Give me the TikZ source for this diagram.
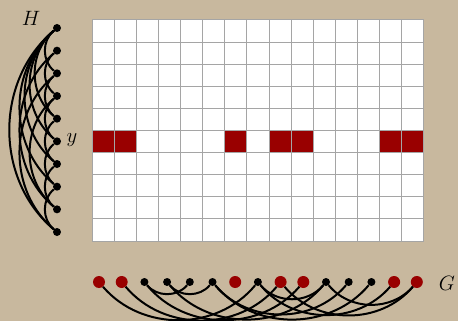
\documentclass[tikz,border=0pt]{standalone}
\definecolor{bgtan}{RGB}{200,184,158}
\definecolor{cellred}{RGB}{153,0,0}
\definecolor{gridgray}{RGB}{165,165,165}
\begin{document}
\begin{tikzpicture}[x=1pt,y=-1pt,
  hv/.style={circle,fill=black,inner sep=0pt,minimum size=8pt},
  gv/.style={circle,fill=black,inner sep=0pt,minimum size=8pt},
  gr/.style={circle,fill=cellred,inner sep=0pt,minimum size=12pt},
  arc/.style={line width=2pt,black},
  lab/.style={font=\fontsize{20}{24}\selectfont}]
\fill[bgtan] (0,0) rectangle (458,321);
\useasboundingbox (0,0) rectangle (458,321);
% grid
\fill[white] (92,20) rectangle (424,241);
\foreach \c in {1,2,7,9,10,14,15}
  \fill[cellred] ({92+(\c-1)*22.133},{20+5*22.1}) rectangle ({92+\c*22.133},{20+6*22.1});
\foreach \i in {0,...,15} \draw[gridgray,line width=1pt] ({92+\i*22.133},20) -- ({92+\i*22.133},241);
\foreach \j in {0,...,10} \draw[gridgray,line width=1pt] (92,{20+\j*22.1}) -- (424,{20+\j*22.1});
% H vertices
\foreach \i in {1,...,10} \node[hv] (h\i) at (57,{28+(\i-1)*22.667}) {};
% H edges
\foreach \a/\b in {1/3,2/4,3/5,4/6,5/7,6/8,7/9,8/10,1/5,1/6,1/7,1/8,1/10,2/9,3/10,4/9}
  \draw[arc] (h\a) to[bend right=50] (h\b);
% G vertices
\foreach \j in {1,...,15} {
  \ifnum\j=1 \def\st{gr}\else\ifnum\j=2 \def\st{gr}\else\ifnum\j=7 \def\st{gr}\else\ifnum\j=9 \def\st{gr}\else\ifnum\j=10 \def\st{gr}\else\ifnum\j=14 \def\st{gr}\else\ifnum\j=15 \def\st{gr}\else\def\st{gv}\fi\fi\fi\fi\fi\fi\fi
  \node[\st] (g\j) at ({99+(\j-1)*22.7},282) {};
}
% G edges
\foreach \a/\b in {1/8,2/9,3/5,4/6,3/10,4/11,6/12,6/13,8/11,8/14,9/15,11/15}
  \draw[arc] (g\a) to[bend right=50] (g\b);
% labels
\node[lab] (lh) at (31,18) {$H$};
\node[lab] (ly) at (72,140) {$y$};
\node[lab] (lg) at (447,283) {$G$};
\end{tikzpicture}
\end{document}
